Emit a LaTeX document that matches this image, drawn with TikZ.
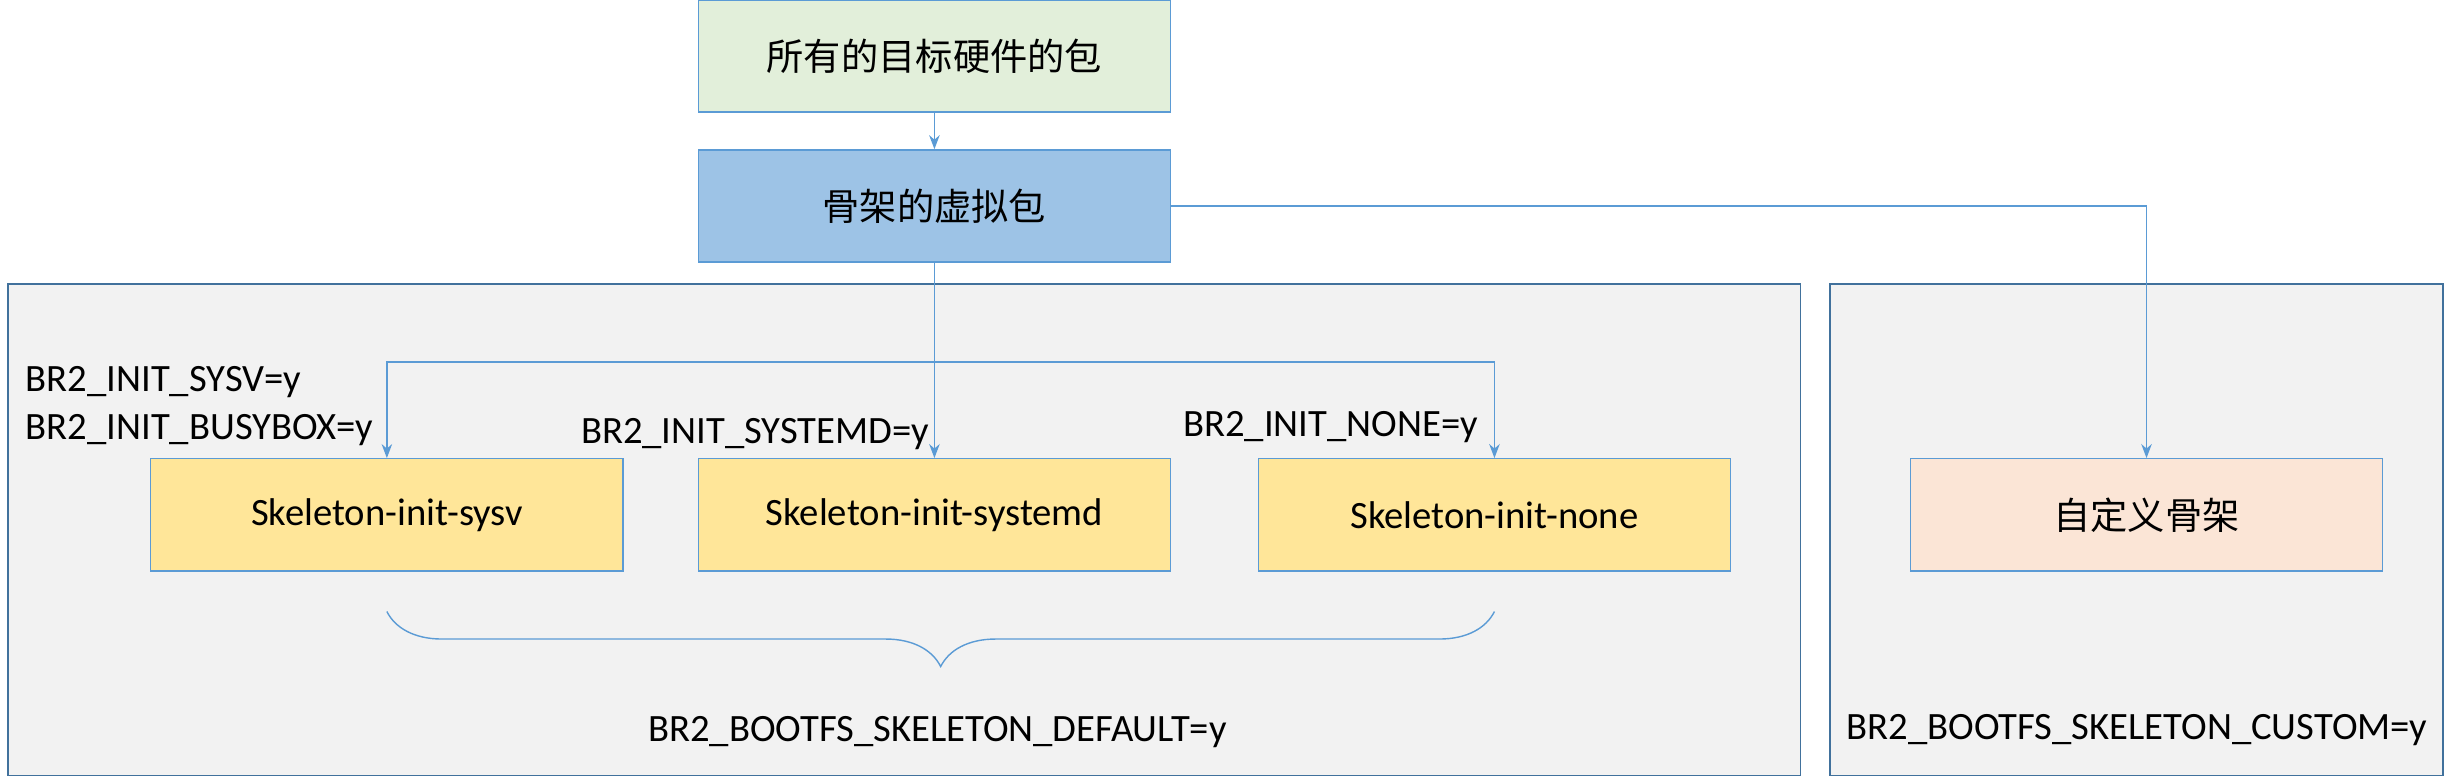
\documentclass[tikz,border=0pt]{standalone}
\usepackage{fontspec}
\setmainfont{Carlito}
\newfontfamily\cjk{Noto Sans CJK SC}
\usetikzlibrary{positioning, calc, decorations.pathreplacing, arrows.meta}
\definecolor{lineblue}{HTML}{5B9BD5}
\definecolor{edgeblue}{HTML}{41719C}
\definecolor{topgreen}{HTML}{E2EFDA}
\definecolor{midblue}{HTML}{9DC3E6}
\definecolor{pkgyellow}{HTML}{FFE699}
\definecolor{custpink}{HTML}{FBE5D6}
\definecolor{panelgray}{HTML}{F2F2F2}

\begin{document}
\begin{tikzpicture}[x=0.0156cm, y=-0.0156cm,
    pkg/.style={rectangle, draw=lineblue, minimum width=4.72cm, minimum height=1.12cm, inner sep=0pt, font=\fontsize{11pt}{13pt}\selectfont},
    panel/.style={draw=edgeblue, fill=panelgray},
    link/.style={draw=lineblue, line width=0.4pt, -{Stealth[length=4pt, width=3pt]}},
    lbl/.style={font=\fontsize{11pt}{13pt}\selectfont, inner sep=0pt}
]
    \useasboundingbox (0,0) rectangle (1568,499);
    % panels
    \draw[panel] (5,182) rectangle (1154,497);
    \draw[panel] (1173,182) rectangle (1566,497);

    % packages
    \node[pkg, fill=topgreen] (allpkg) at (599,36) {\cjk\fontsize{10.6pt}{13pt}\selectfont 所有的目标硬件的包};
    \node[pkg, fill=midblue] (virt) at (599,132) {\cjk\fontsize{10.6pt}{13pt}\selectfont 骨架的虚拟包};
    \node[pkg, fill=pkgyellow] (sysv) at (248,330) {Skeleton-init-sysv};
    \node[pkg, fill=pkgyellow] (systemd) at (599,330) {Skeleton-init-systemd};
    \node[pkg, fill=pkgyellow] (none) at (958,330) {Skeleton-init-none};
    \node[pkg, fill=custpink] (custom) at (1376,330) {\cjk\fontsize{10.6pt}{13pt}\selectfont 自定义骨架};

    % connectors
    \coordinate (split) at (599,232);
    \draw[link] (allpkg) -- (virt);
    \draw[link] (virt) -- (systemd);
    \draw[link] (split) -| (sysv);
    \draw[link] (split) -| (none);
    \draw[link] (virt.east) -| (custom.north);

    % options
    \node[lbl, anchor=west] (optsysv) at (16,245) {BR2\_INIT\_SYSV=y};
    \node[lbl, anchor=west] (optbusy) at (16,276) {BR2\_INIT\_BUSYBOX=y};
    \node[lbl, anchor=west] (optsystemd) at (372,278) {BR2\_INIT\_SYSTEMD=y};
    \node[lbl, anchor=west] (optnone) at (758,274) {BR2\_INIT\_NONE=y};

    % brace
    \coordinate (bl) at (248,392);
    \coordinate (br) at (958,392);
    \draw[lineblue, line width=0.4pt, decorate, decoration={brace, mirror, amplitude=0.55cm}] (bl) -- (br);

    \node[lbl] (optdefault) at (601,469) {BR2\_BOOTFS\_SKELETON\_DEFAULT=y};
    \node[lbl] (optcustom) at (1370,468) {BR2\_BOOTFS\_SKELETON\_CUSTOM=y};
\end{tikzpicture}
\end{document}
